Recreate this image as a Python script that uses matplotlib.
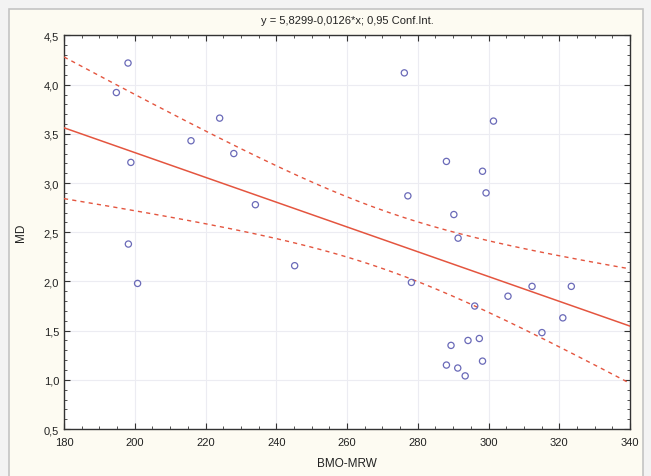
import numpy as np
import matplotlib
matplotlib.use("Agg")
import matplotlib.pyplot as plt
from matplotlib.patches import Rectangle
from matplotlib.ticker import MultipleLocator, FuncFormatter

# data
bmo_mrw = [194.8, 198.1, 224.0, 215.9, 228.0, 198.9, 234.1, 198.2, 200.8, 245.2,
           276.2, 301.4, 288.1, 298.3, 299.3, 277.2, 290.2, 291.4, 278.2, 305.5,
           312.3, 323.4, 296.1, 321.0, 315.1, 297.4, 294.2, 289.4, 298.3, 288.1,
           291.3, 293.4]
md = [3.92, 4.22, 3.66, 3.43, 3.30, 3.21, 2.78, 2.38, 1.98, 2.16,
      4.12, 3.63, 3.22, 3.12, 2.90, 2.87, 2.68, 2.44, 1.99, 1.85,
      1.95, 1.95, 1.75, 1.63, 1.48, 1.42, 1.40, 1.35, 1.19, 1.15,
      1.12, 1.04]

# fitted line as printed in the title
intercept = 5.8299
slope = -0.0126

x_ticks = [180, 200, 220, 240, 260, 280, 300, 320, 340]
y_ticks = [0.5, 1.0, 1.5, 2.0, 2.5, 3.0, 3.5, 4.0, 4.5]

plt.rcParams['font.family'] = ['Liberation Sans Narrow', 'Liberation Sans', 'DejaVu Sans']

fig = plt.figure(figsize=(6.51, 4.77), dpi=100)
fig.patch.set_facecolor('#f3f3f3')
panel = Rectangle((0.014, -0.01), 0.974, 0.99, transform=fig.transFigure,
                  facecolor='#fdfbf2', edgecolor='#c4c4c4', linewidth=1.2, zorder=-10)
fig.add_artist(panel)

ax = fig.add_axes([0.0983, 0.0985, 0.8695, 0.825])
ax.set_facecolor('white')

x = np.array(bmo_mrw)
y = np.array(md)
n = len(x)

# confidence band for the regression line
xs = np.linspace(x_ticks[0], x_ticks[-1], 200)
fit = intercept + slope * xs
resid = y - (intercept + slope * x)
s = np.sqrt(np.sum(resid ** 2) / (n - 2))
sxx = np.sum((x - x.mean()) ** 2)
t_val = 2.042  # t(0.975, 30)
half = t_val * s * np.sqrt(1.0 / n + (xs - x.mean()) ** 2 / sxx)

red = '#e4553f'
ax.plot(xs, fit, color=red, lw=1.1, zorder=3)
ax.plot(xs, fit + half, color=red, lw=1.0, ls=(0, (3, 3)), zorder=3)
ax.plot(xs, fit - half, color=red, lw=1.0, ls=(0, (3, 3)), zorder=3)

ax.scatter(x, y, s=20, facecolors='none', edgecolors='#6a6ab8', linewidths=0.9, zorder=4)

ax.set_xlim(x_ticks[0], x_ticks[-1])
ax.set_ylim(y_ticks[0], y_ticks[-1])
ax.set_xticks(x_ticks)
ax.set_yticks(y_ticks)
ax.xaxis.set_minor_locator(MultipleLocator(5))
ax.yaxis.set_minor_locator(MultipleLocator(0.1))
ax.yaxis.set_major_formatter(FuncFormatter(lambda v, p: f"{v:.1f}".replace('.', ',')))
ax.tick_params(which='both', direction='in', top=True, right=True, colors='#333333',
               labelsize=8, labelcolor='#222222')
ax.tick_params(which='major', length=4, width=0.8)
ax.tick_params(which='minor', length=2, width=0.6)
ax.tick_params(axis='x', which='major', pad=6)
ax.grid(True, which='major', color='#ececf2', lw=0.8)
for sp in ax.spines.values():
    sp.set_color('#333333')
    sp.set_linewidth(1.0)

ax.set_xlabel('BMO-MRW', fontsize=8.5, color='#222222', labelpad=7)
ax.set_ylabel('MD', fontsize=8.5, color='#222222', labelpad=12)
ax.set_title('y = 5,8299-0,0126*x; 0,95 Conf.Int.', fontsize=8, color='#222222', pad=9)

fig.savefig('out.png', dpi=100, facecolor=fig.get_facecolor())
